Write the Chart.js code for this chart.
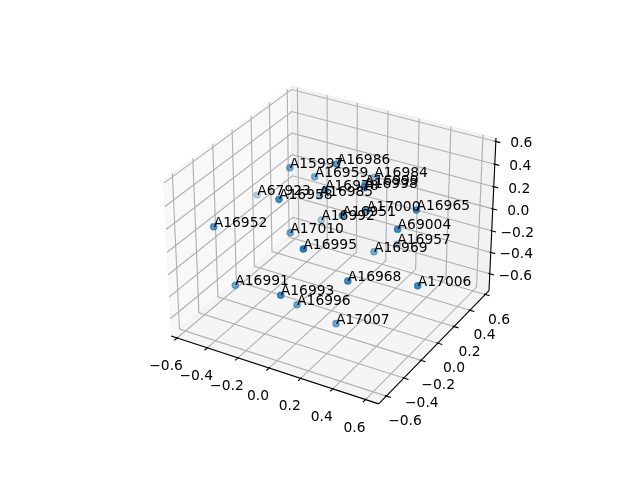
<!DOCTYPE html>
<html>
<head>
<meta charset="utf-8">
<script src="https://cdn.jsdelivr.net/npm/chart.js@4"></script>
<style>html,body{margin:0;background:#fff}canvas{display:block}</style>
</head>
<body>
<canvas id="c" width="640" height="480"></canvas>
<script>
const names = ['A15997','A16986','A16959','A16984','A16978','A16999','A16998','A67923','A16958','A16985','A16965','A17000','A16951','A16992','A17010','A16952','A16995','A69004','A16957','A16969','A16968','A17006','A16991','A16993','A16996','A17007'];
const xValues = [-0.321,-0.029,-0.223,-0.066,0.021,0.236,0.236,-0.664,-0.146,-0.278,0.478,0.112,0.103,-0.270,-0.228,-0.491,0.140,0.448,0.146,0.171,0.285,0.618,-0.420,-0.009,-0.094,0.121];
const yValues = [0.090,0.109,0.199,0.614,-0.107,-0.047,-0.056,0.287,-0.315,0.347,0.096,0.203,-0.060,0.352,-0.067,-0.442,-0.543,-0.063,0.513,0.183,-0.320,-0.141,-0.351,-0.536,-0.224,-0.160];
const zValues = [0.353,0.482,0.239,0.024,0.415,0.501,0.483,-0.154,0.407,-0.054,0.283,0.062,0.192,-0.276,-0.089,0.117,0.250,0.211,-0.445,-0.274,-0.128,-0.159,-0.446,-0.222,-0.578,-0.707];
const tickValues = [-0.6,-0.4,-0.2,0,0.2,0.4,0.6];
const xLim = [-0.64, 0.68], yLim = [-0.684, 0.648], zLim = [-0.76, 0.63];

// same view as a default mplot3d axes
const elev = 30*Math.PI/180, azim = -60*Math.PI/180, dist = 10;
const asp = [4,4,3].map(v => v*1.8294640721620434*25/24/Math.sqrt(41));
const N = [Math.cos(elev)*Math.cos(azim), Math.cos(elev)*Math.sin(azim), Math.sin(elev)];
const E = asp.map((v,i) => v/2+dist*N[i]);
const cross = (a,b) => [a[1]*b[2]-a[2]*b[1], a[2]*b[0]-a[0]*b[2], a[0]*b[1]-a[1]*b[0]];
const dot = (a,b) => a[0]*b[0]+a[1]*b[1]+a[2]*b[2];
const c0 = cross([0,0,1],N), U = c0.map(v => v/Math.hypot(...c0)), V = cross(N,U);

function project(x,y,z) {
  const p = [(x-xLim[0])/(xLim[1]-xLim[0])*asp[0], (y-yLim[0])/(yLim[1]-yLim[0])*asp[1], (z-zLim[0])/(zLim[1]-zLim[0])*asp[2]];
  const d = p.map((v,i) => v-E[i]);
  const w = -dot(d,N);
  return {x: dot(d,U)/w, y: dot(d,V)/w, w};
}

const datasets = [];
let drawOrder = 1000;
function addLine(pts, color, width, fill) {
  datasets.push({
    data: pts.map(p => project(...p)),
    showLine: true, pointRadius: 0, tension: 0, clip: false,
    borderColor: color, borderWidth: width,
    backgroundColor: fill || 'transparent', fill: fill ? 'shape' : false,
    order: drawOrder--
  });
}

const [x0,x1] = xLim, [y0,y1] = yLim, [z0,z1] = zLim;
// panes
addLine([[x0,y0,z0],[x0,y1,z0],[x0,y1,z1],[x0,y0,z1],[x0,y0,z0]], 'rgba(242,242,242,0.5)', 1, 'rgba(242,242,242,0.5)');
addLine([[x0,y1,z0],[x1,y1,z0],[x1,y1,z1],[x0,y1,z1],[x0,y1,z0]], 'rgba(230,230,230,0.5)', 1, 'rgba(230,230,230,0.5)');
addLine([[x0,y0,z0],[x1,y0,z0],[x1,y1,z0],[x0,y1,z0],[x0,y0,z0]], 'rgba(236,236,236,0.5)', 1, 'rgba(236,236,236,0.5)');
// grid
const gridColor = 'rgb(176,176,176)';
tickValues.forEach(t => addLine([[t,y0,z0],[t,y1,z0],[t,y1,z1]], gridColor, 1.11));
tickValues.forEach(t => addLine([[x0,t,z1],[x0,t,z0],[x1,t,z0]], gridColor, 1.11));
tickValues.forEach(t => addLine([[x0,y0,t],[x0,y1,t],[x1,y1,t]], gridColor, 1.11));
// axis lines and tick marks
addLine([[x0,y0,z0],[x1,y0,z0]], '#000', 1.11);
addLine([[x1,y0,z0],[x1,y1,z0]], '#000', 1.11);
addLine([[x1,y1,z0],[x1,y1,z1]], '#000', 1.11);
const dx = (x1-x0)/12, dy = (y1-y0)/12;
tickValues.forEach(t => addLine([[t,y0-0.25*dy,z0],[t,y0+0.08*dy,z0]], '#000', 1.11));
tickValues.forEach(t => addLine([[x1+0.25*dx,t,z0],[x1-0.08*dx,t,z0]], '#000', 1.11));
tickValues.forEach(t => addLine([[x1+0.25*dx,y1,t],[x1-0.08*dx,y1,t]], '#000', 1.11));

// scatter, nearer points are more opaque
const points = names.map((n,i) => project(xValues[i],yValues[i],zValues[i]));
const wMin = Math.min(...points.map(p => p.w)), wMax = Math.max(...points.map(p => p.w));
const shades = points.map(p => `rgba(31,119,180,${(1-0.7*(p.w-wMin)/(wMax-wMin)).toFixed(3)})`);
datasets.push({data: points, pointRadius: 3.1, pointBorderWidth: 1.39, pointBackgroundColor: shades, pointBorderColor: shades, clip: false, order: 1});

const fmt = t => (t<0 ? '\u2212' : '') + Math.abs(t).toFixed(1);
const textPlugin = {
  id: 'text3d',
  afterDatasetsDraw(chart) {
    const g = chart.ctx, sx = chart.scales.x, sy = chart.scales.y;
    const at = p => [sx.getPixelForValue(p.x), sy.getPixelForValue(p.y)];
    g.save();
    g.fillStyle = '#000';
    g.font = '13.89px "DejaVu Sans"';
    g.textAlign = 'left';
    g.textBaseline = 'alphabetic';
    names.forEach((n,i) => { const [a,b] = at(points[i]); g.fillText(n,a,b); });
    g.textAlign = 'center';
    g.textBaseline = 'middle';
    tickValues.forEach(t => { const [a,b] = at(project(t,y0,z0)); g.fillText(fmt(t), a-11, b+28.5); });
    tickValues.forEach(t => { const [a,b] = at(project(x1,t,z0)); g.fillText(fmt(t), a+16.2-4.2*t, b+25.5); });
    tickValues.forEach(t => { const [a,b] = at(project(x1,y1,t)); g.fillText(fmt(t), a+25.5, b+2.2); });
    g.restore();
  }
};

new Chart(document.getElementById('c'), {
  type: 'scatter',
  data: {datasets},
  plugins: [textPlugin],
  options: {
    responsive: false,
    animation: false,
    layout: {padding: {left: 143.2, right: 127.2, top: 57.6, bottom: 52.8}},
    plugins: {legend: {display: false}, tooltip: {enabled: false}},
    scales: {x: {display: false, min: -0.095, max: 0.09}, y: {display: false, min: -0.095, max: 0.09}}
  }
});
</script>
</body>
</html>
